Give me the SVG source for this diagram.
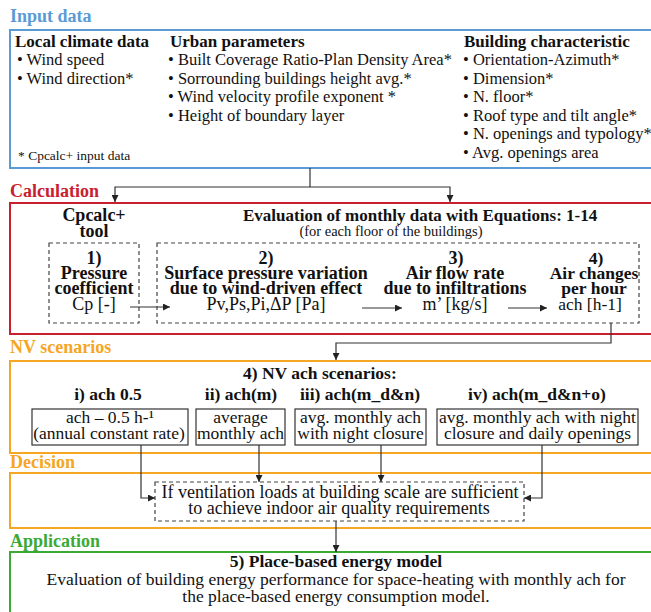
<svg xmlns="http://www.w3.org/2000/svg" width="651" height="612" viewBox="0 0 651 612">
<defs>
<marker id="ah" viewBox="0 0 10 10" refX="10" refY="5" markerWidth="7" markerHeight="7" markerUnits="userSpaceOnUse" orient="auto">
<path d="M0,0 L10,5 L0,10 z" fill="#222"/>
</marker>
<style>
text{font-family:Liberation Serif, Times New Roman, Times, serif;font-size:16.5px;fill:#111}
.b{font-weight:bold}
.c{text-anchor:middle}
.h{font-size:17px}
.s{font-size:13.5px}
.sub{font-size:14.5px}
.k{font-size:18px}
.n{font-size:17.5px}
.title{font-size:18px;font-weight:bold}
.frame{fill:none;stroke-width:2}
.dash{fill:none;stroke:#444;stroke-width:1.2;stroke-dasharray:4,3}
.box{fill:#fff;stroke:#333;stroke-width:1.2}
.con{fill:none;stroke:#333;stroke-width:1.2}
.arr{marker-end:url(#ah)}
</style>
</defs>
<rect width="651" height="612" fill="#fff"/>

<g id="input">
<text x="10" y="22" class="title" style="fill:#5b9bd5">Input data</text>
<rect x="10" y="30" width="660" height="138" class="frame" stroke="#5b9bd5"/>
<text x="15" y="47" class="b h">Local climate data</text>
<text x="17" y="65">• Wind speed</text>
<text x="17" y="83.5">• Wind direction*</text>
<text x="170" y="47" class="b h">Urban parameters</text>
<text x="168" y="65">• Built Coverage Ratio-Plan Density Area*</text>
<text x="168" y="83.5">• Sorrounding buildings height avg.*</text>
<text x="168" y="102">• Wind velocity profile exponent *</text>
<text x="168" y="120.5">• Height of boundary layer</text>
<text x="464" y="47" class="b h">Building characteristic</text>
<text x="463" y="65">• Orientation-Azimuth*</text>
<text x="463" y="83.5">• Dimension*</text>
<text x="463" y="102">• N. floor*</text>
<text x="463" y="120.5">• Roof type and tilt angle*</text>
<text x="463" y="139">• N. openings and typology*</text>
<text x="463" y="157.5">• Avg. openings area</text>
<text x="18" y="160" class="s">* Cpcalc+ input data</text>
</g>

<g id="calculation">
<text x="10" y="197" class="title" style="fill:#c8202e">Calculation</text>
<rect x="10" y="203" width="660" height="131" class="frame" stroke="#c8202e"/>
<text x="94" y="221" class="b c k">Cpcalc+</text>
<text x="94" y="237" class="b c k">tool</text>
<text x="243" y="221" class="b h">Evaluation of monthly data with Equations: 1-14</text>
<text x="391" y="236" class="sub c">(for each floor of the buildings)</text>
</g>

<g id="step1">
<rect x="49" y="243" width="90" height="80" class="dash"/>
<text x="94" y="264" class="b c k">1)</text>
<text x="94" y="278.5" class="b c k">Pressure</text>
<text x="94" y="293.5" class="b c k">coefficient</text>
<text x="94" y="310" class="c k">Cp [-]</text>
</g>

<g id="steps2-4">
<rect x="157" y="243" width="482" height="80" class="dash"/>
<text x="266" y="264" class="b c k">2)</text>
<text x="266" y="278.5" class="b c k">Surface pressure variation</text>
<text x="266" y="293.5" class="b c k">due to wind-driven effect</text>
<text x="266" y="310" class="c k">Pv,Ps,Pi,ΔP [Pa]</text>
<text x="456" y="264" class="b c k">3)</text>
<text x="455" y="278.5" class="b c k">Air flow rate</text>
<text x="455" y="293.5" class="b c k">due to infiltrations</text>
<text x="455" y="310" class="c k">m’ [kg/s]</text>
<text x="596" y="264" class="b c n">4)</text>
<text x="594" y="278.5" class="b c n">Air changes</text>
<text x="594" y="293.5" class="b c n">per hour</text>
<text x="590" y="310" class="c n">ach [h-1]</text>
</g>

<g id="nv-scenarios">
<text x="10" y="353" class="title" style="fill:#f5a623">NV scenarios</text>
<rect x="10" y="361" width="660" height="92" class="frame" stroke="#f5a623"/>
<text x="243" y="379" class="b n">4) NV ach scenarios:</text>
</g>

<g id="scenario-i">
<text x="108" y="400" class="b c n">i) ach 0.5</text>
<rect x="32" y="409" width="156" height="36" class="box"/>
<text x="110" y="423" class="c n">ach – 0.5 h-¹</text>
<text x="109" y="438.5" class="c n">(annual constant rate)</text>
</g>
<g id="scenario-ii">
<text x="241" y="400" class="b c n">ii) ach(m)</text>
<rect x="196" y="409" width="89" height="36" class="box"/>
<text x="240.5" y="423" class="c n">average</text>
<text x="240.5" y="438.5" class="c n">monthly ach</text>
</g>
<g id="scenario-iii">
<text x="360" y="400" class="b c n">iii) ach(m_d&amp;n)</text>
<rect x="295" y="409" width="131" height="36" class="box"/>
<text x="360.5" y="423" class="c n">avg. monthly ach</text>
<text x="360.5" y="438.5" class="c n">with night closure</text>
</g>
<g id="scenario-iv">
<text x="537" y="400" class="b c n">iv) ach(m_d&amp;n+o)</text>
<rect x="437" y="409" width="201" height="36" class="box"/>
<text x="537.5" y="423" class="c n">avg. monthly ach with night</text>
<text x="537.5" y="438.5" class="c n">closure and daily openings</text>
</g>

<g id="decision">
<text x="10" y="468" class="title" style="fill:#f5a623">Decision</text>
<rect x="10" y="473" width="660" height="55" class="frame" stroke="#f5a623"/>
<rect x="155" y="482" width="369" height="39" class="dash"/>
<text x="340" y="498" class="c k">If ventilation loads at building scale are sufficient</text>
<text x="339" y="514" class="c k">to achieve indoor air quality requirements</text>
</g>

<g id="application">
<text x="10" y="547" class="title" style="fill:#3aaa35">Application</text>
<rect x="10" y="552" width="660" height="80" class="frame" stroke="#3aaa35"/>
<text x="336" y="567" class="b c n">5) Place-based energy model</text>
<text x="336" y="585" class="c n">Evaluation of building energy performance for space-heating with monthly ach for</text>
<text x="336" y="602" class="c n">the place-based energy consumption model.</text>
</g>

<g id="connectors">
<path d="M310,168 V187" class="con"/>
<path d="M310,187 H115 V202" class="con arr"/>
<path d="M310,187 H450 V202" class="con arr"/>
<path d="M130,307 H170" class="con arr"/>
<path d="M362,308 H402" class="con arr"/>
<path d="M508,308 H547" class="con arr"/>
<path d="M611,323 V343 H336 V360" class="con arr"/>
<path d="M141,445 V498 H155" class="con arr"/>
<path d="M259,445 V482" class="con arr"/>
<path d="M381,445 V482" class="con arr"/>
<path d="M542,445 V498 H524" class="con arr"/>
<path d="M336,521 V552" class="con arr"/>
</g>
</svg>
